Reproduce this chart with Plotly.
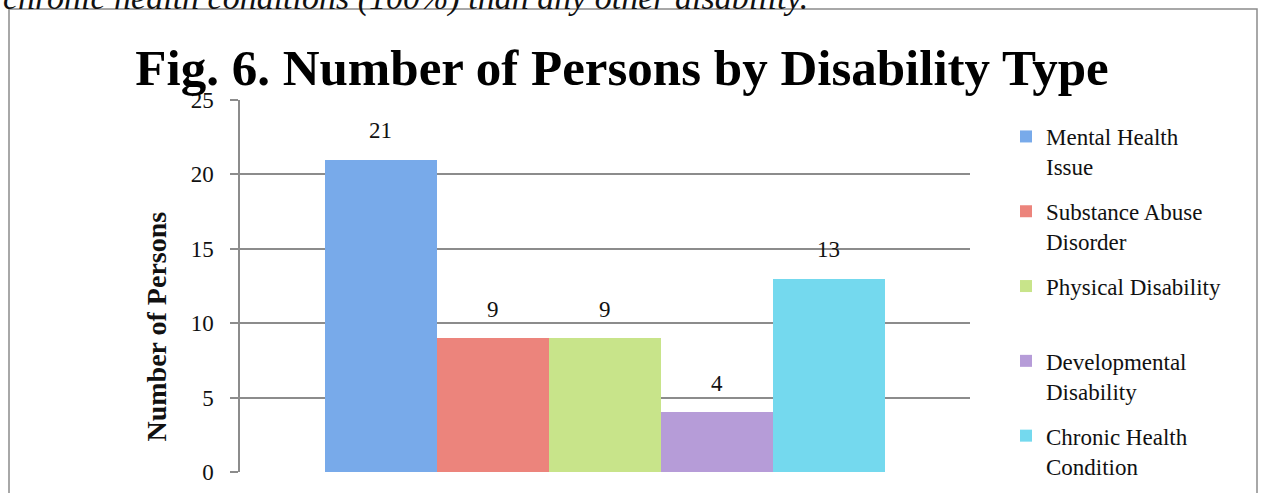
import plotly.graph_objects as go

# ---- data ----
categories = ["Mental Health Issue", "Substance Abuse Disorder", "Physical Disability",
              "Developmental Disability", "Chronic Health Condition"]
legend_labels = ["Mental Health<br>Issue", "Substance Abuse<br>Disorder", "Physical Disability<br> ",
                 "Developmental<br>Disability", "Chronic Health<br>Condition"]
values = [21, 9, 9, 4, 13]
colors = ["#78aaea", "#ec847c", "#c8e48a", "#b69cd8", "#74d9ee"]
y_ticks = [0, 5, 10, 15, 20, 25]

W, H = 1263, 493
L, R, T, B = 240, 970, 100, 472  # plot area in px
pw, ph = R - L, B - T

def px_x(x):
    return (x - L) / pw

def px_y(y):
    return (B - y) / ph

SERIF = "Liberation Serif, Times New Roman, serif"

fig = go.Figure()
for i, (lab, v, c) in enumerate(zip(legend_labels, values, colors)):
    fig.add_trace(go.Bar(x=[i], y=[v], width=1, name=lab, marker=dict(color=c, line=dict(width=0)),
                         legendgroup=f"g{i}", hoverinfo="skip"))
    fig.add_annotation(x=i, y=v, xref="x", yref="y", text=str(v), showarrow=False,
                       yanchor="middle", yshift=29, font=dict(family=SERIF, size=23, color="#111"))

# y-axis title as annotation (offset downward like the reference)
fig.add_annotation(x=px_x(138), y=px_y(327), xref="paper", yref="paper", text="<b>Number of Persons</b>",
                   textangle=-90, showarrow=False, font=dict(family=SERIF, size=28, color="#111"))

# cropped text from the page above
fig.add_annotation(x=px_x(1), y=px_y(19), xref="paper", yref="paper", xanchor="left", yanchor="bottom",
                   text="<i>chronic health conditions (100%) than any other disability.</i>", showarrow=False,
                   font=dict(family=SERIF, size=34, color="#111"))

# outer border box
fig.add_shape(type="rect", xref="paper", yref="paper", x0=px_x(9), x1=px_x(1257), y0=px_y(510), y1=px_y(9),
              line=dict(color="#8c8c8c", width=1.5), fillcolor="rgba(0,0,0,0)", layer="below")

fig.update_layout(
    width=W, height=H,
    margin=dict(l=L, r=W - R, t=T, b=H - B, autoexpand=False),
    paper_bgcolor="white", plot_bgcolor="white",
    barmode="overlay", bargap=0,
    title=dict(text="<b>Fig. 6. Number of Persons by Disability Type</b>", x=622 / W, xref="container",
               xanchor="center", y=1 - 67 / H, yref="container", yanchor="middle",
               font=dict(family=SERIF, size=51, color="#000")),
    xaxis=dict(range=[-1.259, 5.263], visible=False, fixedrange=True),
    yaxis=dict(range=[0, 25], tickvals=y_ticks, showgrid=True, gridcolor="#8c8c8c", gridwidth=1.5,
               showline=True, linecolor="#8c8c8c", linewidth=1.5, ticks="outside", ticklen=8,
               tickcolor="#8c8c8c", tickwidth=1.5, zeroline=False, ticklabelstandoff=12,
               tickfont=dict(family=SERIF, size=23, color="#111"), fixedrange=True),
    legend=dict(x=px_x(1006), y=px_y(115), xanchor="left", yanchor="top", traceorder="grouped",
                tracegroupgap=12, valign="top", maxheight=480,
                font=dict(family=SERIF, size=23, color="#111"), bgcolor="rgba(0,0,0,0)"),
    showlegend=True,
)

fig.write_html("out.html", config={"displayModeBar": False},
               post_script="document.body.style.margin='0px';document.body.style.overflow='hidden';")
